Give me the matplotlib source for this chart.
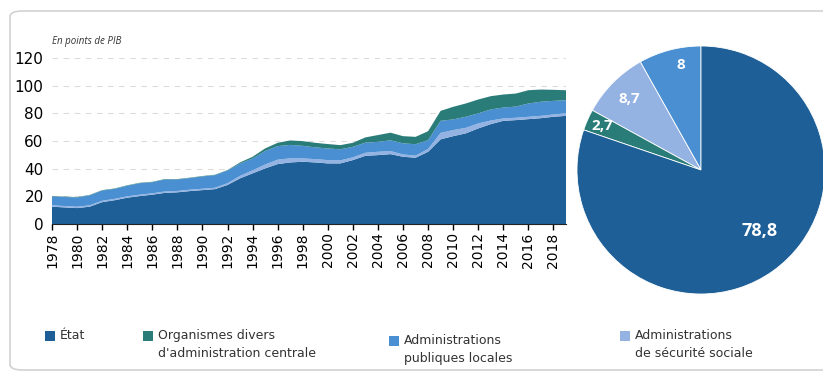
import numpy as np
import matplotlib
matplotlib.use("Agg")
import matplotlib.pyplot as plt
from matplotlib.patches import FancyBboxPatch, Rectangle

# Dette par sous-secteur, en points de PIB
years = list(range(1978, 2020))
etat = [12.5, 12.0, 11.5, 12.5, 15.8, 17.2, 19.0, 20.2, 21.2, 22.5,
        22.9, 23.8, 24.5, 25.2, 28.2, 33.0, 36.6, 40.2, 43.3, 44.5,
        45.0, 44.5, 43.8, 43.8, 46.2, 49.3, 49.8, 50.5, 48.6, 47.9,
        52.2, 61.2, 63.5, 65.5, 69.1, 72.2, 74.6, 75.1, 75.8, 76.5,
        77.5, 78.2]
secu = [1.0, 1.0, 1.0, 1.0, 1.0, 1.0, 1.0, 1.0, 1.0, 1.0,
        1.0, 1.0, 1.0, 1.0, 1.3, 1.8, 2.2, 2.8, 3.2, 3.0,
        2.4, 2.4, 2.4, 2.2, 2.0, 2.2, 2.4, 2.2, 1.7, 1.5,
        2.0, 4.7, 4.4, 4.0, 3.6, 2.6, 1.7, 1.7, 1.7, 1.7,
        1.7, 1.8]
apul = [6.4, 6.5, 6.7, 7.2, 7.4, 7.2, 7.7, 8.3, 8.0, 8.7,
        8.3, 8.4, 8.9, 9.1, 9.2, 8.9, 8.6, 9.8, 9.8, 9.7,
        9.1, 8.5, 8.4, 8.0, 7.6, 7.3, 7.2, 7.8, 8.0, 8.3,
        6.4, 8.7, 7.7, 8.0, 7.3, 8.0, 7.9, 8.1, 9.6, 10.2,
        9.8, 9.5]
odac = [0.3, 0.3, 0.3, 0.3, 0.3, 0.3, 0.3, 0.3, 0.3, 0.3,
        0.3, 0.3, 0.3, 0.3, 0.3, 0.8, 1.2, 1.8, 2.4, 3.2,
        3.4, 3.3, 3.2, 3.0, 2.9, 3.8, 4.9, 5.5, 5.2, 5.3,
        6.5, 7.2, 9.1, 9.6, 10.0, 9.6, 9.4, 9.4, 9.6, 8.8,
        8.0, 7.2]

# Répartition 2019 (camembert)
pie_labels = ["8", "8,7", "2,7", "78,8"]
pie_values = [8.0, 8.7, 2.7, 78.8]

legend_labels = ["État", "Organismes divers\nd'administration centrale",
                 "Administrations\npubliques locales",
                 "Administrations\nde sécurité sociale"]

c_etat = "#1e5f97"
c_odac = "#2a7c78"
c_apul = "#4a8fd2"
c_secu = "#94b3e3"

plt.rcParams["font.family"] = ["Open Sans", "DejaVu Sans"]

fig = plt.figure(figsize=(8.23, 3.76), dpi=100)

# cadre arrondi
frame = FancyBboxPatch((10 / 823, 6 / 376), 830 / 823, 359 / 376,
                       boxstyle="round,pad=0,rounding_size=0.015",
                       transform=fig.transFigure, facecolor="none",
                       edgecolor="#d2d2d2", linewidth=1.2, clip_on=False)
fig.patches.append(frame)

# --- aires empilées ---
ax = fig.add_axes([52 / 823, 1 - 224 / 376, 514 / 823, 166 / 376])
ax.stackplot(years, etat, secu, apul, odac,
             colors=[c_etat, c_secu, c_apul, c_odac], linewidth=0)
ax.set_xlim(1978, 2019)
ax.set_ylim(0, 120)
ax.set_yticks(range(0, 121, 20))
ax.set_xticks(range(1978, 2019, 2))
ax.set_xticklabels([str(y) for y in range(1978, 2019, 2)], rotation=90,
                   fontsize=10, family=["DejaVu Sans"])
ax.tick_params(axis="y", length=0, labelsize=11, pad=6)
ax.tick_params(axis="x", length=4, width=1, direction="out", pad=2)
for lab in ax.get_yticklabels():
    lab.set_family(["DejaVu Sans"])
ax.grid(axis="y", linestyle=(0, (5, 5)), color="#dcdcdc", linewidth=0.8)
ax.set_axisbelow(True)
for s in ["top", "right", "left"]:
    ax.spines[s].set_visible(False)
ax.spines["bottom"].set_color("#222222")
ax.text(0, 1.1, "En points de PIB", transform=ax.transAxes,
        fontsize=7, style="italic", color="#333333", va="center")

# --- camembert ---
pax = fig.add_axes([577 / 823, 1 - 294 / 376, 248 / 823, 248 / 376])
wedges, _ = pax.pie(pie_values, colors=[c_apul, c_secu, c_odac, c_etat],
                    startangle=90, counterclock=True,
                    wedgeprops=dict(edgecolor="white", linewidth=0.6))
pax.set_xlim(-1, 1)
pax.set_ylim(-1, 1)
pax.set_aspect("equal")
radii = [0.86, 0.81, 0.87, 0.68]
shifts = [-4, 0, 0, 8]
sizes = [11, 11, 11, 13]
for w, lab, r, sh, fs in zip(wedges, pie_labels, radii, shifts, sizes):
    ang = np.deg2rad((w.theta1 + w.theta2) / 2 + sh)
    pax.text(r * np.cos(ang), r * np.sin(ang), lab, color="white",
             fontsize=fs, fontweight="bold", ha="center", va="center")

# --- légende ---
leg_x = [45, 143, 389, 620]
leg_colors = [c_etat, c_odac, c_apul, c_secu]
leg_y = [331, 331, 336, 331]
for x, y, col, lab in zip(leg_x, leg_y, leg_colors, legend_labels):
    fig.patches.append(Rectangle((x / 823, 1 - (y + 10) / 376), 10 / 823,
                                 10 / 376, transform=fig.transFigure,
                                 facecolor=col, edgecolor="none"))
    fig.text((x + 15) / 823, 1 - (y - 2) / 376, lab, fontsize=9,
             color="#333333", va="top", ha="left", linespacing=1.5,
             family=["Liberation Sans Narrow", "DejaVu Sans"])

fig.savefig("out.png", dpi=100)
